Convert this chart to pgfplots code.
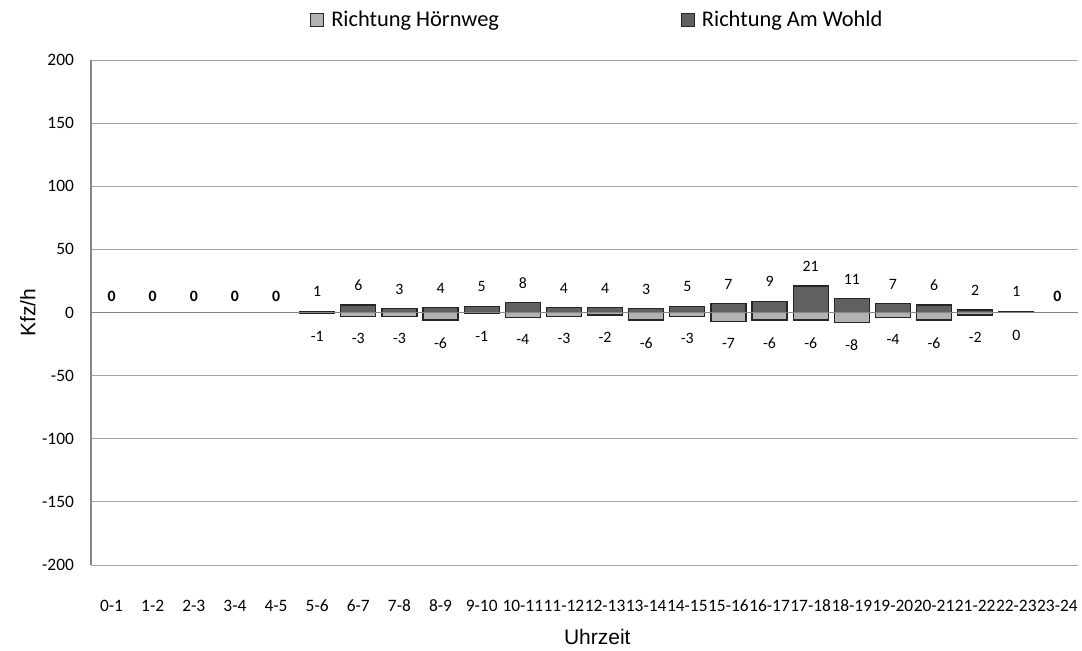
\documentclass[border=0pt]{standalone}
\usepackage{fontspec}
\setmainfont{Carlito}
\newfontfamily\arialfont{Liberation Sans}
\usepackage{pgfplots}
\pgfplotsset{compat=1.18}
\definecolor{darkbar}{HTML}{606060}
\definecolor{lightbar}{HTML}{B2B2B2}
\definecolor{gridgray}{HTML}{A6A6A6}
\definecolor{axisgray}{HTML}{868686}
\newcommand{\tickfont}{\fontsize{8.7}{10}\selectfont}
\newcommand{\labfont}{\fontsize{7.9}{10}\selectfont}
\newcommand{\legfont}{\fontsize{11.2}{13}\selectfont}

\begin{document}
\begin{tikzpicture}
\begin{axis}[
    scale only axis,
    width=493.5pt,
    height=252.5pt,
    ybar,
    xmin=-0.5, xmax=23.5,
    ymin=-200, ymax=200,
    xtick={0,...,23},
    xticklabels={0-1,1-2,2-3,3-4,4-5,5-6,6-7,7-8,8-9,9-10,10-11,11-12,12-13,13-14,14-15,15-16,16-17,17-18,18-19,19-20,20-21,21-22,22-23,23-24},
    ytick={-200,-150,...,200},
    axis x line=bottom,
    axis y line=left,
    axis line style={-},
    x axis line style={draw=gridgray, line width=0.5pt},
    y axis line style={draw=axisgray, line width=0.7pt},
    major tick length=0pt,
    ymajorgrids,
    grid style={gridgray, line width=0.5pt},
    extra y ticks={0},
    extra y tick labels={},
    extra y tick style={grid style={axisgray, line width=0.8pt}},
    axis on top,
    /pgf/number format/assume math mode=true,
    ticklabel style={font=\tickfont},
    yticklabel style={xshift=-5pt},
    xticklabel style={yshift=-14pt},
    xlabel={Uhrzeit},
    xlabel style={font=\arialfont\fontsize{10.5}{12}\selectfont, at={(axis description cs:0.513,-0.1426)}, anchor=center},
    ylabel={Kfz/h},
    ylabel style={font=\arialfont\fontsize{10.5}{12}\selectfont, at={(axis description cs:-0.064,0.5)}, anchor=center},
    legend columns=2,
    legend style={at={(axis description cs:0.514,1.079)}, anchor=center, draw=none, fill=none, font=\legfont,
        /tikz/every odd column/.append style={column sep=1.5pt},
        /tikz/every even column/.append style={column sep=89pt}},
    legend image code/.code={\draw[#1, line width=0.6pt] (0pt,-3.2pt) rectangle (6.4pt,3.2pt);},
]
% Richtung Hoernweg (negativ)
\addplot[ybar, bar shift=0pt, bar width=17.5pt, fill=lightbar, draw=black!85, line width=0.6pt,
    nodes near coords, nodes near coords style={font=\labfont, text=black, anchor=north, yshift=-5pt}]
coordinates {
    (5,-1) (6,-3) (7,-3) (8,-6) (9,-1) (10,-4) (11,-3) (12,-2) (13,-6)
    (14,-3) (15,-7) (16,-6) (17,-6) (18,-8) (19,-4) (20,-6) (21,-2) (22,0)
};
\addlegendentry{Richtung Hörnweg}
% Richtung Am Wohld (positiv)
\addplot[ybar, bar shift=0pt, bar width=17.5pt, fill=darkbar, draw=black!85, line width=0.6pt,
    nodes near coords, nodes near coords style={font=\labfont, text=black, anchor=south, yshift=3.5pt}]
coordinates {
    (5,1) (6,6) (7,3) (8,4) (9,5) (10,8) (11,4) (12,4) (13,3)
    (14,5) (15,7) (16,9) (17,21) (18,11) (19,7) (20,6) (21,2) (22,1)
};
\addlegendentry{Richtung Am Wohld}
% Stunden ohne Verkehr
\addplot[ybar, bar shift=0pt, draw=none, fill=none, forget plot,
    nodes near coords, nodes near coords style={font=\labfont\bfseries, text=black, anchor=south, yshift=2pt}]
coordinates {(0,0) (1,0) (2,0) (3,0) (4,0) (23,0)};
\end{axis}
\pgfresetboundingbox
\path (-45.5pt,-42.5pt) rectangle (495.5pt,282.5pt);
\end{tikzpicture}
\end{document}
